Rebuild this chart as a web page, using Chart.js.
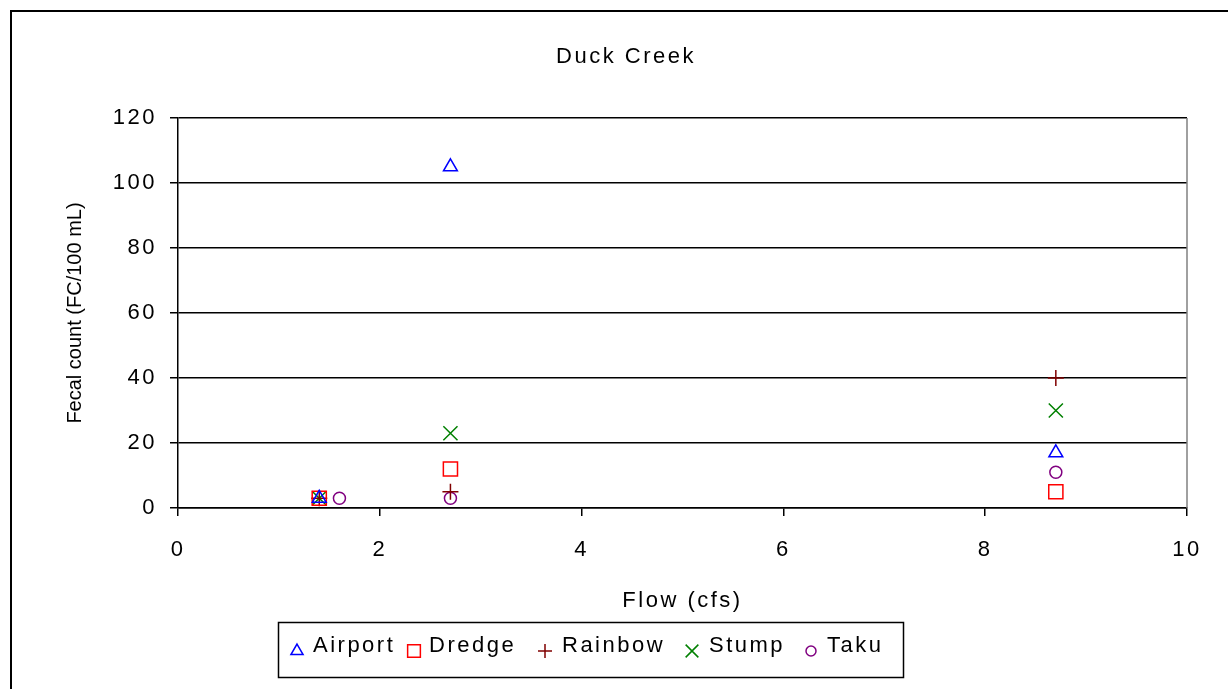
<!DOCTYPE html>
<html>
<head>
<meta charset="utf-8">
<script src="https://cdn.jsdelivr.net/npm/chart.js@4/dist/chart.umd.min.js"></script>
<style>
  html, body { margin: 0; padding: 0; background: #fff; }
  #wrap { width: 1228px; height: 689px; position: relative; }
</style>
</head>
<body>
<div id="wrap"><canvas id="chartDuck"></canvas></div>
<script>
// ─── DATA ────────────────────────────────────────────────
const stations    = ['Airport', 'Dredge', 'Rainbow', 'Stump', 'Taku'];
const airportFlow = [1.4, 2.7, 8.7];
const airportFC   = [3, 105, 17];
const dredgeFlow  = [1.4, 2.7, 8.7];
const dredgeFC    = [3, 12, 5];
const rainbowFlow = [1.4, 2.7, 8.7];
const rainbowFC   = [3, 5, 40];
const stumpFlow   = [1.4, 2.7, 8.7];
const stumpFC     = [3, 23, 30];
const takuFlow    = [1.6, 2.7, 8.7];
const takuFC      = [3, 3, 11];
const xTicks      = [0, 2, 4, 6, 8, 10];
const yTicks      = [0, 20, 40, 60, 80, 100, 120];

const FONT   = 'Arial, "Liberation Sans", sans-serif';
const FSIZE  = 22;
const SPACING = '2.5px';
const STYLES = [
  { color: '#0000ff', pointStyle: 'triangle', radius: 8,  legendR: 7 },
  { color: '#ff0000', pointStyle: 'rect',     radius: 10, legendR: 9 },
  { color: '#800000', pointStyle: 'cross',    radius: 8,  legendR: 7 },
  { color: '#008000', pointStyle: 'crossRot', radius: 10, legendR: 9 },
  { color: '#800080', pointStyle: 'circle',   radius: 6,  legendR: 5 },
];

const pairs = (xs, ys) => xs.map((x, i) => ({ x, y: ys[i] }));
const seriesData = [
  pairs(airportFlow, airportFC),
  pairs(dredgeFlow, dredgeFC),
  pairs(rainbowFlow, rainbowFC),
  pairs(stumpFlow, stumpFC),
  pairs(takuFlow, takuFC),
];

// Marco, título, título Y, borde derecho y leyenda con caja
const decorPlugin = {
  id: 'decor',
  beforeDraw(chart) {
    chart.ctx.letterSpacing = SPACING;
  },
  afterDraw(chart) {
    const ctx = chart.ctx;
    const ca  = chart.chartArea;
    ctx.save();

    // borde exterior (izq. y arriba)
    ctx.strokeStyle = '#000';
    ctx.lineWidth = 2;
    ctx.beginPath();
    ctx.moveTo(11, 689); ctx.lineTo(11, 11); ctx.lineTo(1228, 11);
    ctx.stroke();

    // borde derecho gris del área
    ctx.strokeStyle = '#808080';
    ctx.lineWidth = 1.5;
    ctx.beginPath();
    ctx.moveTo(ca.right, ca.top); ctx.lineTo(ca.right, ca.bottom);
    ctx.stroke();

    // título
    ctx.fillStyle = '#000';
    ctx.font = FSIZE + 'px ' + FONT;
    ctx.letterSpacing = SPACING;
    ctx.textAlign = 'center';
    ctx.textBaseline = 'middle';
    ctx.fillText('Duck Creek', 626, 57);

    // título eje Y
    ctx.save();
    ctx.letterSpacing = '0px';
    ctx.font = '20px ' + FONT;
    ctx.translate(75, (ca.top + ca.bottom) / 2);
    ctx.rotate(-Math.PI / 2);
    ctx.fillText('Fecal count (FC/100 mL)', 0, 0);
    ctx.restore();

    // leyenda
    ctx.strokeStyle = '#000';
    ctx.lineWidth = 1.5;
    ctx.strokeRect(278.5, 622.5, 625, 55);
    const markX = [297, 414, 545, 692, 811];
    const textX = [313, 429, 562, 709, 827];
    ctx.textAlign = 'left';
    ctx.font = FSIZE + 'px ' + FONT;
    stations.forEach((name, i) => {
      const st = STYLES[i];
      ctx.save();
      ctx.strokeStyle = st.color;
      ctx.fillStyle = 'rgba(0,0,0,0)';
      ctx.lineWidth = 1.5;
      Chart.helpers.drawPoint(ctx, {
        pointStyle: st.pointStyle, radius: st.legendR, rotation: 0, borderWidth: 1.5,
      }, markX[i], 651);
      ctx.restore();
      ctx.fillStyle = '#000';
      ctx.fillText(name, textX[i], 646);
    });
    ctx.restore();
  },
};

new Chart(document.getElementById('chartDuck'), {
  type: 'scatter',
  data: {
    datasets: stations.map((name, i) => ({
      label: name,
      data: seriesData[i],
      pointStyle: STYLES[i].pointStyle,
      pointRadius: STYLES[i].radius,
      pointHoverRadius: STYLES[i].radius,
      borderColor: STYLES[i].color,
      backgroundColor: 'rgba(0,0,0,0)',
      pointBorderWidth: 1.5,
      showLine: false,
    })),
  },
  options: {
    responsive: true,
    maintainAspectRatio: false,
    animation: false,
    events: [],
    layout: { padding: { left: 10, top: 118, right: 41, bottom: 71 } },
    plugins: {
      legend:  { display: false },
      title:   { display: false },
      tooltip: { enabled: false },
    },
    scales: {
      x: {
        type: 'linear',
        min: 0, max: 10,
        afterBuildTicks: s => { s.ticks = xTicks.map(v => ({ value: v })); },
        afterFit: s => { s.height = 110; },
        grid:   { drawOnChartArea: false, color: '#000', lineWidth: 1.5, tickLength: 8 },
        border: { color: '#000', width: 1.5 },
        ticks:  { color: '#000', padding: 21, font: { family: FONT, size: FSIZE }, maxRotation: 0 },
        title:  { display: true, text: 'Flow (cfs)', color: '#000',
                  font: { family: FONT, size: FSIZE }, padding: { top: 0, bottom: 4 } },
      },
      y: {
        min: 0, max: 120,
        afterBuildTicks: s => { s.ticks = yTicks.map(v => ({ value: v })); },
        afterFit: s => { s.width = 168; },
        grid:   { color: '#000', lineWidth: 1.5, tickLength: 8 },
        border: { color: '#000', width: 1.5 },
        ticks:  { color: '#000', padding: 13, font: { family: FONT, size: FSIZE } },
      },
    },
  },
  plugins: [decorPlugin],
});
</script>
</body>
</html>
